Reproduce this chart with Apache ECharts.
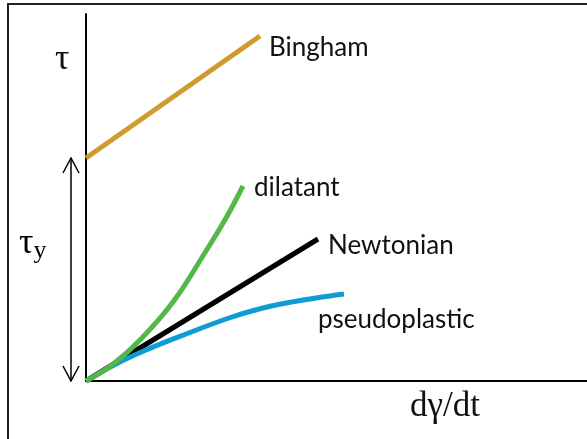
<!DOCTYPE html>
<html>
<head>
<meta charset="utf-8">
<script src="https://cdn.jsdelivr.net/npm/echarts@6/dist/echarts.min.js"></script>
<style>
  html, body { margin: 0; padding: 0; background: #fff; }
  #main { width: 587px; height: 439px; }
</style>
</head>
<body>
<div id="main"></div>
<script>
// shear rate (x) / shear stress (y), arbitrary units
const binghamX = [0, 174];
const binghamY = [223, 345];
const newtonianX = [0, 232];
const newtonianY = [0, 142];
const dilatantX = [0, 26, 54, 87, 120, 140, 157];
const dilatantY = [0, 16, 41, 79, 130, 163, 195];
const pseudoX = [0, 30, 60, 100, 143, 173, 203, 230, 258];
const pseudoY = [0, 17, 31, 47, 63, 72, 78.5, 83, 87];
const yieldStress = 223;

const zip = (xs, ys) => xs.map((x, i) => [x, ys[i]]);

const labelFont = 'Lato';
const serif = 'Liberation Serif';

const chart = echarts.init(document.getElementById('main'));

function makeSeries(name, xs, ys, color, smooth, offset) {
  return {
    name: name,
    type: 'line',
    data: zip(xs, ys),
    smooth: smooth,
    symbol: 'none',
    clip: false,
    lineStyle: { color: color, width: 5 },
    endLabel: {
      show: true,
      formatter: name,
      offset: offset,
      color: '#111',
      fontFamily: labelFont,
      fontSize: 26
    }
  };
}

const option = {
  animation: false,
  grid: { left: 86, top: 14, right: 0, bottom: 58 },
  xAxis: {
    type: 'value', min: 0, max: 501,
    axisLine: { show: true, lineStyle: { color: '#000', width: 2 } },
    axisTick: { show: false }, axisLabel: { show: false }, splitLine: { show: false }
  },
  yAxis: {
    type: 'value', min: 0, max: 367,
    axisLine: { show: true, lineStyle: { color: '#000', width: 2 } },
    axisTick: { show: false }, axisLabel: { show: false }, splitLine: { show: false }
  },
  series: [
    makeSeries('Bingham', binghamX, binghamY, '#CF9B2E', false, [1, 12]),
    makeSeries('Newtonian', newtonianX, newtonianY, '#000000', false, [2, 7]),
    makeSeries('pseudoplastic', pseudoX, pseudoY, '#0F9CD3', 0.4, [-34, 26]),
    makeSeries('dilatant', dilatantX, dilatantY, '#53B848', 0.4, [3, 2])
  ]
};
chart.setOption(option);

// annotations: frame, axis symbols, yield stress arrow
const arrTop = chart.convertToPixel({ gridIndex: 0 }, [0, yieldStress]);
const arrBot = chart.convertToPixel({ gridIndex: 0 }, [0, 0]);
const ax = arrTop[0] - 15;
const ah = 15, aw = 8;
const arrowStyle = { stroke: '#000', lineWidth: 1.5, fill: null };

chart.setOption({
  graphic: [
    { type: 'rect', shape: { x: 8, y: 4, width: 700, height: 600 },
      style: { stroke: '#222', lineWidth: 2, fill: null }, silent: true },
    { type: 'line', shape: { x1: ax, y1: arrTop[1], x2: ax, y2: arrBot[1] }, style: arrowStyle },
    { type: 'polyline', shape: { points: [[ax - aw, arrTop[1] + ah], [ax, arrTop[1]], [ax + aw, arrTop[1] + ah]] }, style: arrowStyle },
    { type: 'polyline', shape: { points: [[ax - aw, arrBot[1] - ah], [ax, arrBot[1]], [ax + aw, arrBot[1] - ah]] }, style: arrowStyle },
    { type: 'text', left: 55, top: 42,
      style: { text: 'τ', font: '36px "' + serif + '"', fill: '#111' } },
    { type: 'text', left: 19, top: 226,
      style: {
        text: '{a|τ}{b|y}',
        rich: {
          a: { fontFamily: serif, fontSize: 36, color: '#111' },
          b: { fontFamily: serif, fontSize: 26, color: '#111', padding: [14, 0, 0, 0] }
        }
      } },
    { type: 'text', left: 410, top: 389,
      style: { text: 'dγ/dt', font: '35px "' + serif + '"', fill: '#111' } }
  ]
});
</script>
</body>
</html>
